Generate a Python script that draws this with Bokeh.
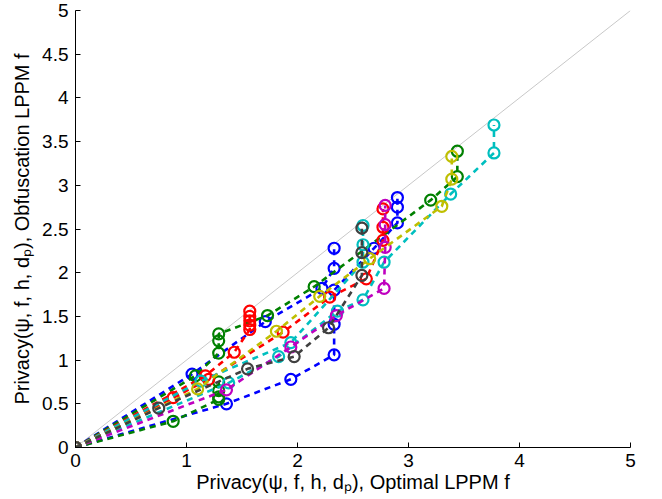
from bokeh.plotting import figure
from bokeh.models import Range1d, FixedTicker
from bokeh.embed import file_html
from bokeh.resources import INLINE

# ---- data ----
x_ticks = [0, 1, 2, 3, 4, 5]
x_tick_labels = ["0", "1", "2", "3", "4", "5"]
y_ticks = [0, 0.5, 1, 1.5, 2, 2.5, 3, 3.5, 4, 4.5, 5]
y_tick_labels = ["0", "0.5", "1", "1.5", "2", "2.5", "3", "3.5", "4", "4.5", "5"]

diag_x = [0, 5]
diag_y = [0, 5]

blue_x1 = [0, 1.05, 1.71, 2.22, 2.33, 2.33]
blue_y1 = [0, 0.84, 1.44, 1.82, 2.05, 2.28]
blue_x2 = [0, 1.36, 1.94, 2.33, 2.33, 2.33, 2.69, 2.90, 2.90, 2.90]
blue_y2 = [0, 0.50, 0.78, 1.06, 1.41, 1.80, 2.28, 2.57, 2.75, 2.86]

green_x1 = [0, 0.88, 1.29, 1.29, 1.29, 1.29]
green_y1 = [0, 0.30, 0.55, 0.58, 0.65, 0.75]
green_x2 = [0, 1.08, 1.29, 1.29, 1.29, 1.73, 2.15, 3.20, 3.44, 3.44]
green_y2 = [0, 0.82, 1.08, 1.22, 1.30, 1.51, 1.84, 2.83, 3.10, 3.39]

red_x1 = [0, 1.17, 1.43, 1.57, 1.57, 1.57, 1.57, 1.57]
red_y1 = [0, 0.82, 1.09, 1.35, 1.40, 1.45, 1.50, 1.56]
red_x2 = [0, 0.88, 1.20, 1.87, 2.29, 2.62, 2.77, 2.77, 2.77]
red_y2 = [0, 0.57, 0.78, 1.32, 1.72, 1.93, 2.37, 2.52, 2.73]

cyan_x1 = [0, 1.38, 1.83, 2.36, 2.59, 2.78, 3.38, 3.77, 3.77]
cyan_y1 = [0, 0.74, 1.04, 1.56, 1.69, 2.12, 2.90, 3.37, 3.69]
cyan_x2 = [0, 1.13, 1.94, 2.59, 2.59, 2.59]
cyan_y2 = [0, 0.76, 1.20, 2.12, 2.32, 2.54]

magenta_x1 = [0, 1.36, 1.94, 2.35, 2.78, 2.79, 2.79, 2.79]
magenta_y1 = [0, 0.66, 1.15, 1.51, 1.82, 2.29, 2.55, 2.77]

yellow_x1 = [0, 1.10, 1.81, 2.20, 2.65, 3.30, 3.39, 3.39]
yellow_y1 = [0, 0.67, 1.33, 1.73, 2.16, 2.76, 3.07, 3.33]

gray_x1 = [0, 0.75, 1.55, 1.97, 2.28, 2.58, 2.58, 2.58]
gray_y1 = [0, 0.45, 0.90, 1.04, 1.37, 1.97, 2.23, 2.51]

series = [
    ("#0000FF", blue_x1, blue_y1),
    ("#0000FF", blue_x2, blue_y2),
    ("#008000", green_x1, green_y1),
    ("#008000", green_x2, green_y2),
    ("#FF0000", red_x1, red_y1),
    ("#FF0000", red_x2, red_y2),
    ("#00BFBF", cyan_x1, cyan_y1),
    ("#00BFBF", cyan_x2, cyan_y2),
    ("#BF00BF", magenta_x1, magenta_y1),
    ("#BFBF00", yellow_x1, yellow_y1),
    ("#404040", gray_x1, gray_y1),
]

FONT = "Liberation Sans"

p = figure(width=654, height=496, output_backend="svg", toolbar_location=None,
           x_range=Range1d(0, 5), y_range=Range1d(0, 5),
           min_border_left=75, min_border_right=24, min_border_top=10, min_border_bottom=49)
p.outline_line_color = None
p.xgrid.visible = False
p.ygrid.visible = False
p.background_fill_color = "white"
p.border_fill_color = "white"

p.line(diag_x, diag_y, line_color="#c8c8c8", line_width=1)

for color, xs, ys in series:
    p.line(xs, ys, line_color=color, line_width=2.6, line_dash="6 5")
    p.scatter(xs, ys, marker="circle", size=11, fill_color=None,
              line_color=color, line_width=2.2)

for ax, ticks, labels in ((p.xaxis[0], x_ticks, x_tick_labels), (p.yaxis[0], y_ticks, y_tick_labels)):
    ax.ticker = FixedTicker(ticks=ticks)
    ax.major_label_overrides = {t: l for t, l in zip(ticks, labels)}
    ax.minor_tick_line_color = None
    ax.major_tick_in = 5
    ax.major_tick_out = 0
    ax.axis_line_color = "black"
    ax.major_tick_line_color = "black"
    ax.major_label_text_font = FONT
    ax.major_label_text_font_size = "19px"
    ax.major_label_text_color = "black"
    ax.axis_label_text_font = FONT
    ax.axis_label_text_font_size = "20px"
    ax.axis_label_text_font_style = "normal"
    ax.axis_label_text_color = "black"

p.xaxis.axis_label = "Privacy(\u03c8, f, h, d\u209a), Optimal LPPM f"
p.yaxis.axis_label = "Privacy(\u03c8, f, h, d\u209a), Obfuscation LPPM f"
p.xaxis.major_label_standoff = 6
p.yaxis.major_label_standoff = 7
p.xaxis.axis_label_standoff = 1
p.yaxis.axis_label_standoff = 6

open("out.html", "w").write(file_html(p, INLINE))
